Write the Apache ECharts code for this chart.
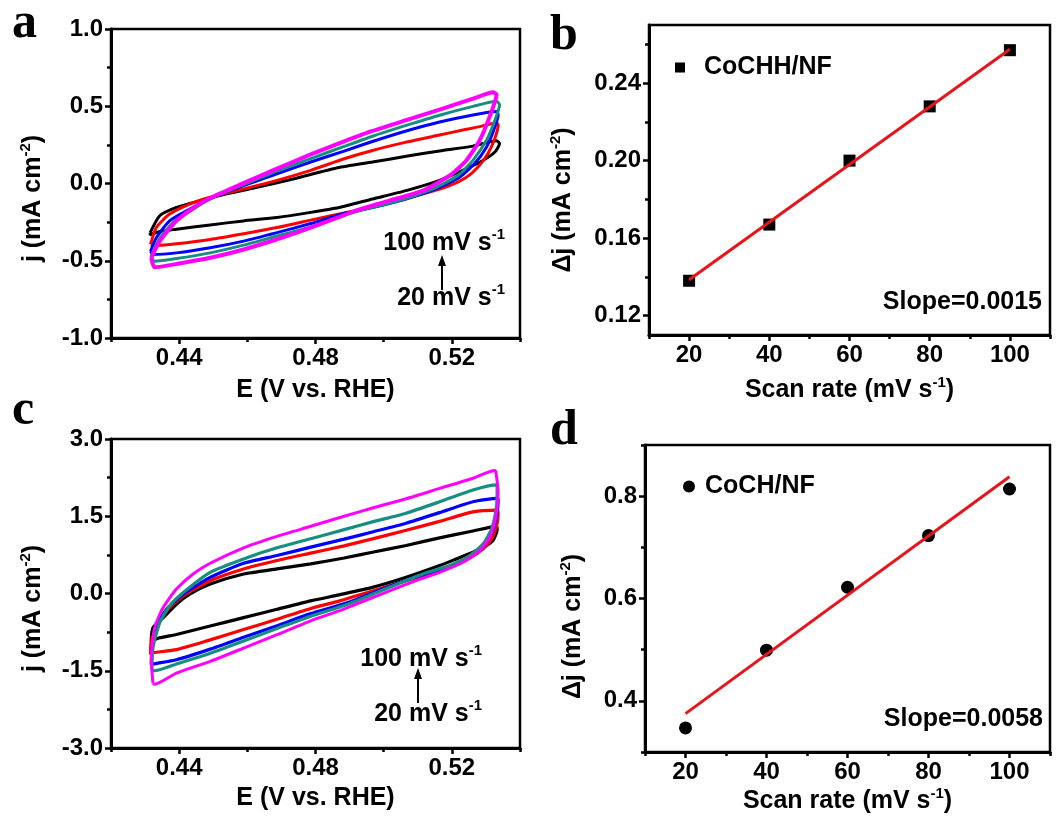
<!DOCTYPE html>
<html>
<head>
<meta charset="utf-8">
<script src="https://cdn.jsdelivr.net/npm/echarts@6/dist/echarts.min.js"></script>
<style>html,body{margin:0;padding:0;background:#fff;}#c{width:1063px;height:821px;}</style>
</head>
<body>
<div id="c"></div>
<script>
// ---------- DATA ----------
// Panel a: CV loops (E / V vs RHE, j / mA cm-2), CoCHH/NF, 20..100 mV/s
const a20 = [[0.4315,-0.318],[0.4343,-0.209],[0.4392,-0.155],[0.4461,-0.111],[0.4540,-0.067],[0.4638,-0.020],[0.4737,0.031],[0.4865,0.102],[0.4967,0.139],[0.5066,0.176],[0.5164,0.211],[0.5262,0.242],[0.5331,0.277],[0.5340,0.259],[0.5327,0.205],[0.5292,0.150],[0.5243,0.096],[0.5164,0.020],[0.5066,-0.046],[0.4967,-0.100],[0.4869,-0.155],[0.4786,-0.187],[0.4687,-0.220],[0.4589,-0.242],[0.4491,-0.268],[0.4392,-0.296],[0.4343,-0.311],[0.4315,-0.333],[0.4315,-0.318]];
const a40 = [[0.4316,-0.394],[0.4333,-0.285],[0.4372,-0.198],[0.4431,-0.133],[0.4491,-0.089],[0.4589,-0.035],[0.4687,0.020],[0.4786,0.085],[0.4884,0.160],[0.4967,0.214],[0.5066,0.268],[0.5164,0.314],[0.5243,0.351],[0.5282,0.368],[0.5331,0.394],[0.5336,0.379],[0.5326,0.292],[0.5306,0.194],[0.5277,0.107],[0.5243,0.041],[0.5194,-0.013],[0.5115,-0.067],[0.5017,-0.122],[0.4918,-0.176],[0.4884,-0.190],[0.4786,-0.237],[0.4687,-0.285],[0.4589,-0.325],[0.4491,-0.362],[0.4392,-0.390],[0.4338,-0.401],[0.4316,-0.394]];
const a60 = [[0.4316,-0.438],[0.4333,-0.351],[0.4372,-0.242],[0.4431,-0.166],[0.4496,-0.094],[0.4589,-0.013],[0.4687,0.063],[0.4786,0.139],[0.4884,0.210],[0.4967,0.272],[0.5066,0.340],[0.5164,0.398],[0.5262,0.444],[0.5331,0.466],[0.5336,0.444],[0.5323,0.346],[0.5302,0.237],[0.5267,0.129],[0.5223,0.041],[0.5154,-0.035],[0.5056,-0.107],[0.4957,-0.161],[0.4884,-0.194],[0.4786,-0.259],[0.4687,-0.318],[0.4589,-0.373],[0.4491,-0.416],[0.4392,-0.449],[0.4323,-0.460],[0.4316,-0.438]];
const a80 = [[0.4318,-0.471],[0.4338,-0.373],[0.4382,-0.253],[0.4441,-0.166],[0.4496,-0.094],[0.4589,-0.007],[0.4687,0.081],[0.4786,0.161],[0.4884,0.240],[0.4967,0.306],[0.5066,0.376],[0.5164,0.442],[0.5262,0.499],[0.5331,0.532],[0.5340,0.510],[0.5327,0.412],[0.5302,0.281],[0.5262,0.150],[0.5218,0.052],[0.5144,-0.035],[0.5046,-0.111],[0.4948,-0.166],[0.4884,-0.205],[0.4786,-0.281],[0.4687,-0.340],[0.4589,-0.399],[0.4491,-0.449],[0.4392,-0.486],[0.4328,-0.503],[0.4318,-0.471]];
const a100 = [[0.4318,-0.481],[0.4343,-0.373],[0.4392,-0.242],[0.4451,-0.144],[0.4496,-0.089],[0.4589,0.002],[0.4687,0.096],[0.4786,0.188],[0.4884,0.272],[0.4967,0.340],[0.5066,0.410],[0.5164,0.478],[0.5262,0.549],[0.5321,0.590],[0.5331,0.575],[0.5311,0.433],[0.5282,0.281],[0.5243,0.150],[0.5194,0.052],[0.5115,-0.046],[0.5017,-0.111],[0.4918,-0.175],[0.4884,-0.205],[0.4786,-0.285],[0.4687,-0.361],[0.4589,-0.427],[0.4491,-0.481],[0.4392,-0.521],[0.4328,-0.542],[0.4318,-0.481]];

// Panel c: CV loops, CoCH/NF
const c20 = [[0.4318,-0.894],[0.4323,-0.665],[0.4353,-0.469],[0.4392,-0.208],[0.4431,-0.013],[0.4491,0.183],[0.4589,0.379],[0.4687,0.477],[0.4786,0.575],[0.4884,0.690],[0.4967,0.800],[0.5066,0.933],[0.5164,1.080],[0.5262,1.214],[0.5331,1.305],[0.5333,1.240],[0.5321,1.031],[0.5302,0.933],[0.5262,0.803],[0.5213,0.672],[0.5164,0.542],[0.5066,0.314],[0.4967,0.118],[0.4869,-0.026],[0.4786,-0.143],[0.4687,-0.306],[0.4589,-0.469],[0.4491,-0.632],[0.4392,-0.795],[0.4343,-0.860],[0.4318,-0.926],[0.4318,-0.894]];
const c40 = [[0.4316,-1.186],[0.4318,-0.926],[0.4338,-0.567],[0.4367,-0.306],[0.4412,-0.045],[0.4491,0.249],[0.4589,0.477],[0.4687,0.640],[0.4786,0.783],[0.4884,0.925],[0.4967,1.060],[0.5066,1.227],[0.5164,1.400],[0.5262,1.586],[0.5333,1.618],[0.5336,1.553],[0.5331,1.292],[0.5317,1.064],[0.5292,0.868],[0.5253,0.692],[0.5194,0.509],[0.5115,0.346],[0.5017,0.150],[0.4918,-0.050],[0.4869,-0.148],[0.4786,-0.290],[0.4687,-0.500],[0.4589,-0.700],[0.4491,-0.900],[0.4392,-1.089],[0.4318,-1.154],[0.4316,-1.186]];
const c60 = [[0.4318,-1.383],[0.4321,-1.057],[0.4333,-0.632],[0.4363,-0.306],[0.4412,-0.013],[0.4491,0.314],[0.4589,0.587],[0.4687,0.738],[0.4786,0.900],[0.4884,1.055],[0.4967,1.195],[0.5066,1.365],[0.5164,1.570],[0.5262,1.782],[0.5333,1.847],[0.5336,1.814],[0.5331,1.488],[0.5317,1.162],[0.5292,0.900],[0.5253,0.705],[0.5194,0.522],[0.5115,0.366],[0.5017,0.140],[0.4918,-0.120],[0.4869,-0.230],[0.4786,-0.390],[0.4687,-0.625],[0.4589,-0.850],[0.4491,-1.080],[0.4392,-1.285],[0.4323,-1.370],[0.4318,-1.383]];
const c80 = [[0.4320,-1.480],[0.4323,-1.057],[0.4343,-0.567],[0.4372,-0.241],[0.4412,0.019],[0.4491,0.411],[0.4589,0.672],[0.4687,0.887],[0.4786,1.064],[0.4884,1.240],[0.4967,1.390],[0.5066,1.560],[0.5164,1.780],[0.5262,2.010],[0.5331,2.108],[0.5333,2.075],[0.5331,1.683],[0.5317,1.259],[0.5292,0.966],[0.5253,0.738],[0.5194,0.542],[0.5115,0.379],[0.5017,0.120],[0.4918,-0.150],[0.4869,-0.267],[0.4786,-0.440],[0.4687,-0.680],[0.4589,-0.920],[0.4491,-1.160],[0.4392,-1.370],[0.4328,-1.500],[0.4320,-1.480]];
const c100 = [[0.4323,-1.741],[0.4318,-1.252],[0.4328,-0.665],[0.4353,-0.274],[0.4392,0.085],[0.4441,0.379],[0.4491,0.587],[0.4589,0.887],[0.4687,1.110],[0.4786,1.305],[0.4884,1.500],[0.4967,1.660],[0.5066,1.840],[0.5164,2.040],[0.5262,2.238],[0.5326,2.388],[0.5329,2.368],[0.5336,1.945],[0.5329,1.488],[0.5312,1.097],[0.5282,0.835],[0.5233,0.607],[0.5164,0.411],[0.5095,0.249],[0.5017,0.052],[0.4918,-0.209],[0.4869,-0.339],[0.4786,-0.530],[0.4687,-0.800],[0.4589,-1.060],[0.4491,-1.317],[0.4392,-1.546],[0.4328,-1.760],[0.4323,-1.741]];

// Panel b: CoCHH/NF
const bRate = [20, 40, 60, 80, 100];
const bDj = [0.138, 0.167, 0.200, 0.228, 0.257];
const bFitX = [20, 100];
const bFitY = [0.1385, 0.2575];
// Panel d: CoCH/NF
const dRate = [20, 40, 60, 80, 100];
const dDj = [0.347, 0.499, 0.622, 0.723, 0.814];
const dFitX = [20, 100];
const dFitY = [0.375, 0.838];

// Tick values
const aXMajor = [0.44, 0.48, 0.52], aXMinor = [0.42, 0.46, 0.50, 0.54];
const aYMajor = [-1.0, -0.5, 0.0, 0.5, 1.0], aYMinor = [-0.75, -0.25, 0.25, 0.75];
const cYMajor = [-3.0, -1.5, 0.0, 1.5, 3.0], cYMinor = [-2.25, -0.75, 0.75, 2.25];
const bXMajor = [20, 40, 60, 80, 100], bXMinor = [10, 30, 50, 70, 90, 110];
const bYMajor = [0.12, 0.16, 0.20, 0.24], bYMinor = [0.14, 0.18, 0.22, 0.26];
const dYMajor = [0.4, 0.6, 0.8], dYMinor = [0.3, 0.5, 0.7, 0.9];

const cvColors = ['#000000', '#ff0000', '#0000ff', '#168f82', '#ff00ff'];
const FONT = 'Liberation Sans';

// ---------- BUILD ----------
const supRich = { sup: { fontFamily: FONT, fontWeight: 'bold', fontSize: 15, color: '#000', padding: [0, 0, 16, 0] } };

function axisPair(dim, grid, min, max, major, minor, digits, name, nameGap, namePad) {
  const pos = dim === 'x' ? 'bottom' : 'left';
  const main = {
    type: 'value', gridIndex: grid, min: min, max: max, position: pos, offset: 0,
    axisLine: { show: true, onZero: false, lineStyle: { color: '#000', width: 3 } },
    axisTick: { show: true, inside: false, customValues: major, length: 6, lineStyle: { color: '#000', width: 2.5 } },
    axisLabel: { show: true, customValues: major, formatter: v => Number(v).toFixed(digits), color: '#000',
      fontFamily: FONT, fontWeight: 'bold', fontSize: 24, margin: 8 },
    splitLine: { show: false },
    name: name, nameLocation: 'middle', nameGap: nameGap,
    nameTextStyle: { fontFamily: FONT, fontWeight: 'bold', fontSize: 25, color: '#000', padding: namePad || 0, rich: supRich }
  };
  const sub = {
    type: 'value', gridIndex: grid, min: min, max: max, position: pos, offset: 0,
    axisLine: { show: false, onZero: false },
    axisTick: { show: true, inside: false, customValues: minor, length: 4, lineStyle: { color: '#000', width: 2.5 } },
    axisLabel: { show: false }, splitLine: { show: false }
  };
  return [main, sub];
}

const xAxes = [].concat(
  axisPair('x', 0, 0.42, 0.54, aXMajor, aXMinor, 2, 'E (V vs. RHE)', 40),
  axisPair('x', 1, 10, 110, bXMajor, bXMinor, 0, 'Scan rate (mV s{sup|-1})', 40),
  axisPair('x', 2, 0.42, 0.54, aXMajor, aXMinor, 2, 'E (V vs. RHE)', 38),
  axisPair('x', 3, 10, 110, bXMajor, bXMinor, 0, 'Scan rate (mV s{sup|-1})', 34)
);
const yAxes = [].concat(
  axisPair('y', 0, -1, 1, aYMajor, aYMinor, 1, 'j (mA cm{sup|-2})', 62, [0, 30, 0, 0]),
  axisPair('y', 1, 0.11, 0.27, bYMajor, bYMinor, 2, '\u0394j (mA cm{sup|-2})', 70, [0, 40, 0, 0]),
  axisPair('y', 2, -3, 3, cYMajor, cYMinor, 1, 'j (mA cm{sup|-2})', 62, [0, 30, 0, 0]),
  axisPair('y', 3, 0.3, 0.9, dYMajor, dYMinor, 1, '\u0394j (mA cm{sup|-2})', 56, [0, 56, 0, 0])
);

function cvSeries(loops, idx, widths) {
  return loops.map((d, i) => ({
    type: 'line', xAxisIndex: idx, yAxisIndex: idx, data: d,
    symbol: 'none', showSymbol: false, smooth: 0.2,
    lineStyle: { color: cvColors[i], width: widths[i] }, z: 2 + i
  }));
}

const series = [].concat(
  cvSeries([a20, a40, a60, a80, a100], 0, [3, 3, 3, 3, 4]),
  cvSeries([c20, c40, c60, c80, c100], 4, [3.2, 3.2, 3.2, 3.2, 3]),
  [
    { type: 'scatter', name: 'CoCHH/NF', xAxisIndex: 2, yAxisIndex: 2, data: bRate.map((r, i) => [r, bDj[i]]),
      symbol: 'rect', symbolSize: 12, itemStyle: { color: '#000', opacity: 1 }, z: 3 },
    { type: 'line', name: 'fitB', xAxisIndex: 2, yAxisIndex: 2, data: bFitX.map((x, i) => [x, bFitY[i]]),
      symbol: 'none', lineStyle: { color: '#e8141c', width: 3 }, z: 4 },
    { type: 'scatter', name: 'CoCH/NF', xAxisIndex: 6, yAxisIndex: 6, data: dRate.map((r, i) => [r, dDj[i]]),
      symbol: 'circle', symbolSize: 13, itemStyle: { color: '#000', opacity: 1 }, z: 3 },
    { type: 'line', name: 'fitD', xAxisIndex: 6, yAxisIndex: 6, data: dFitX.map((x, i) => [x, dFitY[i]]),
      symbol: 'none', lineStyle: { color: '#e8141c', width: 3 }, z: 4 }
  ]
);

const gridBase = { show: true, borderColor: '#000', borderWidth: 2.5, backgroundColor: 'transparent', containLabel: false };
const grids = [
  Object.assign({ left: 111, top: 29, width: 409, height: 309 }, gridBase),
  Object.assign({ left: 649, top: 25, width: 401, height: 310 }, gridBase),
  Object.assign({ left: 111, top: 439, width: 409, height: 309 }, gridBase),
  Object.assign({ left: 645, top: 445, width: 405, height: 307 }, gridBase)
];

const letterFont = 'bold 50px "Liberation Serif"';
const txtFont = 'bold 25px "Liberation Sans"';
const rateRich = { sup: { font: 'bold 15px "Liberation Sans"', fill: '#000', padding: [0, 0, 16, 0] } };
function label(text, x, y, font, align) {
  return { type: 'text', x: x, y: y, z: 100, style: { text: text, font: font, fill: '#000', align: align || 'left', verticalAlign: 'middle', rich: rateRich } };
}
function arrow(x, yBottom, yTop) {
  return [
    { type: 'line', z: 100, shape: { x1: x, y1: yBottom, x2: x, y2: yTop + 8 }, style: { stroke: '#000', lineWidth: 2 } },
    { type: 'polygon', z: 100, shape: { points: [[x, yTop], [x - 4, yTop + 11], [x + 4, yTop + 11]] }, style: { fill: '#000' } }
  ];
}

const graphic = [
  label('a', 12, 24, letterFont),
  label('b', 550, 36, letterFont),
  label('c', 12, 411, letterFont),
  label('d', 550, 431, letterFont),
  label('100 mV s{sup|-1}', 505, 243, txtFont, 'right'),
  label('20 mV s{sup|-1}', 505, 298, txtFont, 'right'),
  label('100 mV s{sup|-1}', 482, 659, txtFont, 'right'),
  label('20 mV s{sup|-1}', 482, 714, txtFont, 'right'),
  label('Slope=0.0015', 1042, 302, txtFont, 'right'),
  label('Slope=0.0058', 1043, 719, txtFont, 'right')
].concat(arrow(442, 290, 255), arrow(418, 703, 668));

const legendText = { fontFamily: FONT, fontWeight: 'bold', fontSize: 25, color: '#000' };
const option = {
  animation: false,
  backgroundColor: '#fff',
  grid: grids,
  xAxis: xAxes,
  yAxis: yAxes,
  legend: [
    { data: ['CoCHH/NF'], left: 675, top: 55, padding: 0, icon: 'rect', itemWidth: 10, itemHeight: 10, selectedMode: false,
      itemStyle: { opacity: 1 }, textStyle: Object.assign({ padding: [0, 0, 0, 14] }, legendText) },
    { data: ['CoCH/NF'], left: 683, top: 474, padding: 0, icon: 'circle', itemWidth: 12, itemHeight: 12, selectedMode: false,
      itemStyle: { opacity: 1 }, textStyle: Object.assign({ padding: [0, 0, 0, 5] }, legendText) }
  ],
  graphic: graphic,
  series: series
};

const chart = echarts.init(document.getElementById('c'), null, { renderer: 'canvas' });
chart.setOption(option);
</script>
</body>
</html>
